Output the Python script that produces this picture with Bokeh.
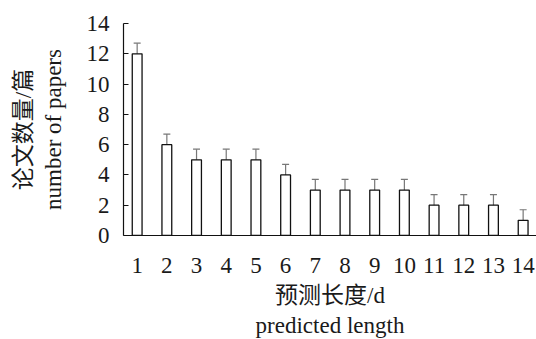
from bokeh.plotting import figure
from bokeh.models import ColumnDataSource, Whisker, FixedTicker, Range1d, TeeHead
from bokeh.embed import file_html
from bokeh.resources import INLINE

lengths = [1, 2, 3, 4, 5, 6, 7, 8, 9, 10, 11, 12, 13, 14]
papers = [12, 6, 5, 5, 5, 4, 3, 3, 3, 3, 2, 2, 2, 1]
errors = [0.7, 0.7, 0.7, 0.7, 0.7, 0.7, 0.7, 0.7, 0.7, 0.7, 0.7, 0.7, 0.7, 0.7]
y_ticks = [0, 2, 4, 6, 8, 10, 12, 14]

src = ColumnDataSource(dict(
    x=lengths, y=papers,
    upper=[v + e for v, e in zip(papers, errors)],
    lower=[v - e for v, e in zip(papers, errors)],
))

p = figure(frame_width=413, frame_height=212, output_backend="svg", toolbar_location=None,
           x_range=Range1d(0.54, 14.45), y_range=Range1d(0, 14),
           min_border_left=123, min_border_top=23, min_border_right=0, min_border_bottom=104)
p.outline_line_color = None
p.grid.visible = False
p.background_fill_color = "white"

p.vbar(x="x", top="y", width=0.33, source=src, fill_color="white",
       line_color="#111111", line_width=1.3)

w = Whisker(base="x", upper="upper", lower="lower", source=src,
            line_color="#777777", line_width=1.2,
            upper_head=TeeHead(size=7, line_color="#777777", line_width=1.2),
            lower_head=TeeHead(size=7, line_color="#777777", line_width=1.2))
p.add_layout(w)

font = "Liberation Serif, Noto Sans CJK SC"
p.xaxis.ticker = FixedTicker(ticks=lengths)
p.yaxis.ticker = FixedTicker(ticks=y_ticks)
p.axis.axis_line_color = "#111111"
p.axis.axis_line_width = 1.2
p.axis.major_label_text_font = "Liberation Serif"
p.axis.major_label_text_font_size = "23px"
p.axis.major_label_text_color = "#1a1a1a"
p.axis.axis_label_text_font = font
p.axis.axis_label_text_font_size = "23px"
p.axis.axis_label_text_font_style = "normal"
p.axis.axis_label_text_color = "#1a1a1a"
p.axis.minor_tick_line_color = None
p.xaxis.major_tick_line_color = None
p.xaxis.major_label_standoff = 16
p.yaxis.major_tick_in = 5
p.yaxis.major_tick_out = 0
p.yaxis.major_tick_line_color = "#111111"
p.yaxis.major_label_standoff = 14
p.xaxis.axis_label = "预测长度/d\npredicted length"
p.yaxis.axis_label = "论文数量/篇\nnumber of papers"
p.xaxis.axis_label_standoff = 7
p.yaxis.axis_label_standoff = 18

open("out.html", "w").write(file_html(p, INLINE))
